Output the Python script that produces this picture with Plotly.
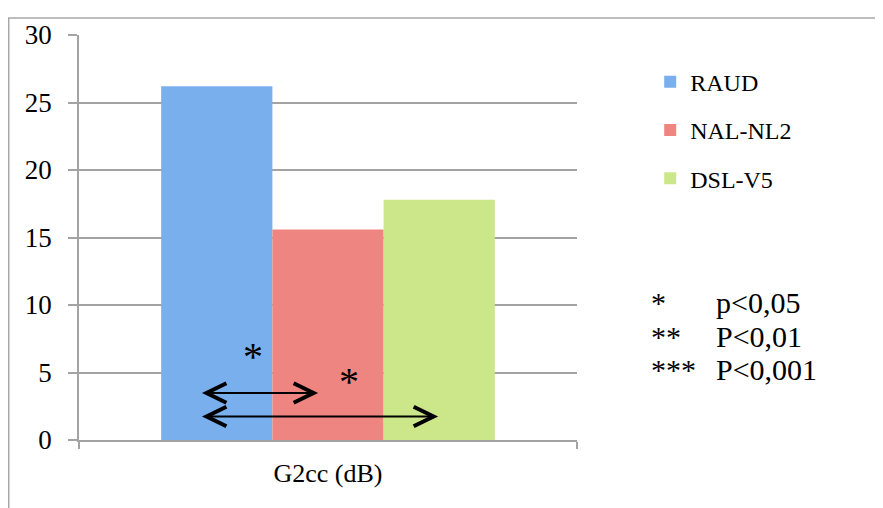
import plotly.graph_objects as go

# ---- data ----
category = ["G2cc (dB)"]
series_names = ["RAUD", "NAL-NL2", "DSL-V5"]
series_values = [26.2, 15.6, 17.8]
series_colors = ["#7aafed", "#ef8580", "#cbe78a"]

y_ticks = [0, 5, 10, 15, 20, 25, 30]

# significance arrows: (x_start, x_end, y) in axis units
arrow_x0 = [-0.244, -0.244]
arrow_x1 = [-0.029, 0.212]
arrow_y = [3.48, 1.74]
star_x = [-0.15, 0.042]
star_y = [6.15, 4.3]

legend_stars = ["*", "**", "***"]
legend_pvals = ["p<0,05", "P<0,01", "P<0,001"]

FONT = "Liberation Serif"
GRID = "#a3a3a3"

fig = go.Figure()
for i, (name, val, col) in enumerate(zip(series_names, series_values, series_colors)):
    fig.add_trace(go.Bar(
        x=category, y=[val], name=name,
        marker=dict(color=col, line=dict(width=0)),
        legendgroup=name,
    ))

shapes = []
dx, dy = 0.04, 0.72
for x0, x1, y in zip(arrow_x0, arrow_x1, arrow_y):
    shapes.append(dict(type="line", xref="x", yref="y", x0=x0, x1=x1, y0=y, y1=y,
                       line=dict(color="black", width=2.2)))
    shapes.append(dict(type="path", xref="x", yref="y",
                       path=f"M {x0+dx} {y+dy} L {x0} {y} L {x0+dx} {y-dy}",
                       line=dict(color="black", width=4)))
    shapes.append(dict(type="path", xref="x", yref="y",
                       path=f"M {x1-dx} {y+dy} L {x1} {y} L {x1-dx} {y-dy}",
                       line=dict(color="black", width=4)))

# outer chart frame
shapes.append(dict(type="rect", xref="paper", yref="paper",
                   x0=-0.1411, x1=1.8, y0=-0.4, y1=1.0417,
                   line=dict(color="#a8a8a8", width=1.5), layer="below"))

annotations = []
for sx, sy in zip(star_x, star_y):
    annotations.append(dict(x=sx, y=sy, xref="x", yref="y", text="*", showarrow=False,
                            font=dict(family=FONT, size=40, color="black"),
                            xanchor="center", yanchor="middle"))

row_y = [0.339, 0.256, 0.174]
for s, p, ry in zip(legend_stars, legend_pvals, row_y):
    annotations.append(dict(x=1.145, y=ry, xref="paper", yref="paper", text=s, showarrow=False,
                            font=dict(family=FONT, size=30, color="black"),
                            xanchor="left", yanchor="middle"))
    annotations.append(dict(x=1.276, y=ry, xref="paper", yref="paper", text=p, showarrow=False,
                            font=dict(family=FONT, size=30, color="black"),
                            xanchor="left", yanchor="middle"))

fig.update_layout(
    width=875, height=500,
    margin=dict(l=71, r=306, t=18, b=68),
    paper_bgcolor="white", plot_bgcolor="white",
    barmode="group", bargap=0.33, bargroupgap=0,
    font=dict(family=FONT, size=24, color="black"),
    showlegend=True,
    legend=dict(x=1.147, y=0.939, xanchor="left", yanchor="top",
                font=dict(family=FONT, size=24), tracegroupgap=14,
                bgcolor="rgba(0,0,0,0)"),
    shapes=shapes,
    annotations=annotations,
)
fig.update_yaxes(range=[0, 30], tickvals=y_ticks, showgrid=True, gridcolor=GRID, gridwidth=1.5,
                 showline=True, linecolor=GRID, linewidth=1.5, ticks="outside", ticklen=9,
                 tickcolor=GRID, tickwidth=1.5, zeroline=False, ticklabelstandoff=11,
                 tickfont=dict(family=FONT, size=27))
fig.update_xaxes(type="category", showline=True, linecolor=GRID, linewidth=1.5,
                 ticks="outside", tickson="boundaries", ticklen=7, tickcolor=GRID, tickwidth=1.5,
                 showgrid=False, ticklabelstandoff=9, tickfont=dict(family=FONT, size=26))

fig.write_html("out.html")
